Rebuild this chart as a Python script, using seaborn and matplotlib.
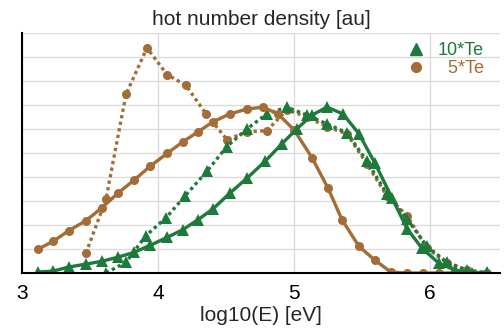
import matplotlib
matplotlib.use("Agg")
import matplotlib.pyplot as plt
from matplotlib.lines import Line2D
import seaborn as sns

# log10(E) grids
x_solid = [3.118, 3.228, 3.346, 3.47, 3.588, 3.706, 3.824, 3.941, 4.066, 4.184,
           4.294, 4.404, 4.529, 4.654, 4.772, 4.882, 5.0, 5.132, 5.25, 5.353,
           5.478, 5.596, 5.713, 5.83, 5.95, 6.07, 6.18]
x_green_solid = [3.118, 3.228, 3.346, 3.47, 3.588, 3.706, 3.824, 3.941, 4.066, 4.184,
                 4.294, 4.404, 4.529, 4.654, 4.787, 4.912, 5.022, 5.132, 5.243, 5.36,
                 5.478, 5.596, 5.721, 5.831, 5.941, 6.066, 6.184, 6.309, 6.419]
x_dotted = [3.47, 3.618, 3.765, 3.919, 4.066, 4.206, 4.353, 4.507, 4.654, 4.80,
            4.949, 5.096, 5.243, 5.39, 5.537, 5.684, 5.831, 5.978, 6.125, 6.272, 6.419]
x_green_dotted = [3.618, 3.765, 3.912, 4.059, 4.199, 4.36, 4.507, 4.654, 4.80,
                  4.949, 5.096, 5.243, 5.39, 5.537, 5.684, 5.831, 5.978, 6.125,
                  6.272, 6.419]

# 5*Te
brown_solid = [0.99, 1.32, 1.77, 2.18, 2.72, 3.33, 3.87, 4.44, 4.98, 5.47,
               5.88, 6.30, 6.63, 6.83, 6.91, 6.63, 5.97, 4.81, 3.54, 2.22,
               1.11, 0.53, 0.04, 0.0, 0.0, 0.0, 0.0]
brown_dotted = [0.82, 3.09, 7.45, 9.38, 8.27, 7.82, 6.63, 5.56, 5.88, 5.93,
                6.80, 6.50, 6.09, 5.80, 4.53, 3.21, 2.39, 1.03, 0.41, 0.12, 0.0]
# 10*Te
green_solid = [0.04, 0.08, 0.25, 0.37, 0.49, 0.66, 0.86, 1.15, 1.48, 1.81,
               2.22, 2.67, 3.33, 3.95, 4.65, 5.39, 6.01, 6.58, 6.91, 6.63,
               5.80, 4.57, 3.13, 1.85, 1.03, 0.41, 0.12, 0.0, 0.04]
green_dotted = [0.0, 0.45, 1.56, 2.30, 3.21, 4.24, 5.27, 6.0, 6.63, 6.91,
                6.58, 6.21, 5.84, 4.65, 3.29, 2.26, 1.11, 0.45, 0.12, 0.0]

green = "#1d7a3a"
brown = "#a46c36"

sns.set_style("white")
plt.rcParams['font.family'] = ['Liberation Sans', 'DejaVu Sans']

fig = plt.figure(figsize=(5.04, 3.34), dpi=100)
ax = fig.add_axes([22 / 504, 61 / 334, 478 / 504, 240 / 334])

dot = (0, (1, 1))
common = dict(ax=ax, sort=False, legend=False, linewidth=2.4, markeredgewidth=0)
sns.lineplot(x=x_dotted, y=brown_dotted, color=brown, marker='o', markersize=6.5,
             linestyle=dot, **common)
sns.lineplot(x=x_green_dotted, y=green_dotted, color=green, marker='^', markersize=8,
             linestyle=dot, **common)
sns.lineplot(x=x_solid, y=brown_solid, color=brown, marker='o', markersize=6.5, **common)
sns.lineplot(x=x_green_solid, y=green_solid, color=green, marker='^', markersize=8, **common)

ax.set_xlim(3, 6.515)
ax.set_ylim(0, 10)
ax.set_xticks([3, 4, 5, 6])
ax.set_yticks(range(0, 11))
ax.set_yticklabels([])
ax.grid(True, color="#dcdcdc", linewidth=1)
ax.set_axisbelow(True)
for s in ['top', 'right']:
    ax.spines[s].set_visible(False)
for s in ['left', 'bottom']:
    ax.spines[s].set_color('black')
    ax.spines[s].set_linewidth(1.5)
ax.tick_params(axis='x', direction='inout', length=6, width=1.2, colors='black',
               labelsize=15, pad=5)
ax.tick_params(axis='y', direction='in', length=3, width=1, colors='black')

ax.set_xlabel("log10(E) [eV]", fontsize=15, labelpad=2)
ax.set_ylabel("")
ax.set_title("hot number density [au]", fontsize=15, pad=6)

handles = [Line2D([], [], color=green, marker='^', linestyle='', markersize=9),
           Line2D([], [], color=brown, marker='o', markersize=7, linestyle='')]
leg = ax.legend(handles, ["10*Te", "\u20075*Te"], loc='upper right', frameon=False,
                fontsize=13, handletextpad=0.2, labelspacing=0.05,
                bbox_to_anchor=(0.985, 1.0), borderaxespad=0.1)
for t, c in zip(leg.get_texts(), [green, brown]):
    t.set_color(c)

fig.savefig("out.png", dpi=100)
